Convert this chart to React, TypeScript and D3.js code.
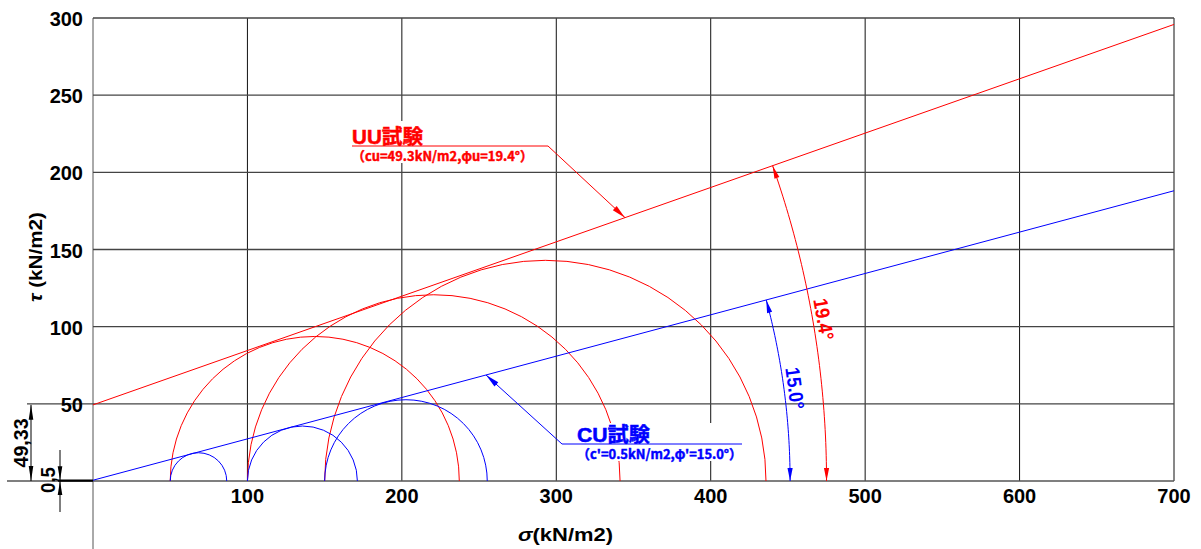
import React, { useEffect, useRef } from 'react';
import * as d3 from 'd3';

// axis ticks
const sigmaTicks = [0, 100, 200, 300, 400, 500, 600, 700];
const tauTicks = [0, 50, 100, 150, 200, 250, 300];

// minor / major principal stress of each specimen (kN/m2)
const sigma3 = [50, 100, 150];
const uuSigma1 = [237.2, 341.3, 435.8];
const cuSigma1 = [86.6, 171.2, 255.3];

// strength parameters [c, phi(deg)]
const uuStrength = [49.33, 19.4];
const cuStrength = [0.5, 15.0];

// sigma where the angle dimension arcs reach the axis [UU, CU]
const angleDimSigma = [475, 451.4];
// sigma where the label leaders hit each envelope [UU, CU]
const leaderSigma = [344.5, 254.5];

const uuTitle = 'UU試験';
const uuSub = '（cu=49.3kN/m2,φu=19.4°）';
const cuTitle = 'CU試験';
const cuSub = "（c'=0.5kN/m2,φ'=15.0°）";

const RED = '#ff0000';
const BLUE = '#0000ff';
const W = 1201;
const H = 549;
const LATIN = "'Liberation Sans', Arial, 'Noto Sans CJK JP', sans-serif";
const CJK = "'Noto Sans CJK JP', 'Liberation Sans', sans-serif";

const rad = (d: number) => (d * Math.PI) / 180;

const App = () => {
  const svgRef = useRef<SVGSVGElement>(null);

  useEffect(() => {
    const svg = d3.select(svgRef.current);
    svg.selectAll('*').remove();

    const x = d3.scaleLinear().domain([0, 700]).range([93, 1174]);
    const y = d3.scaleLinear().domain([0, 300]).range([481, 18]);

    // filled arrow head, tip at (tx,ty), pointing along (dx,dy)
    const arrow = (g: any, tx: number, ty: number, dx: number, dy: number, color: string, len = 13, half = 2.6) => {
      const n = Math.hypot(dx, dy);
      const ux = dx / n, uy = dy / n;
      const bx = tx - ux * len, by = ty - uy * len;
      g.append('polygon')
        .attr('points', `${tx},${ty} ${bx - uy * half},${by + ux * half} ${bx + uy * half},${by - ux * half}`)
        .attr('fill', color);
    };

    // grid
    const grid = svg.append('g').attr('stroke', '#333').attr('stroke-width', 1);
    sigmaTicks.forEach((s) => {
      grid.append('line')
        .attr('x1', x(s)).attr('x2', x(s))
        .attr('y1', y(300)).attr('y2', s === 0 ? H : y(0))
        .attr('stroke', s === 0 ? '#555' : '#111');
    });
    tauTicks.forEach((t) => {
      grid.append('line')
        .attr('x1', t === 0 ? 7 : t === 50 ? 27 : x(0)).attr('x2', x(700))
        .attr('y1', y(t)).attr('y2', y(t))
        .attr('stroke', t === 0 ? '#555' : '#444')
        .attr('stroke-width', 1.3);
    });

    // tick labels
    svg.append('g').selectAll('text')
      .data(sigmaTicks.filter((s) => s > 0))
      .enter().append('text')
      .attr('x', (d) => x(d)).attr('y', 503)
      .attr('text-anchor', 'middle')
      .attr('font-family', LATIN).attr('font-weight', 'bold').attr('font-size', 20)
      .text((d) => d);
    svg.append('g').selectAll('text')
      .data(tauTicks.filter((t) => t > 0))
      .enter().append('text')
      .attr('x', 83).attr('y', (d) => y(d) + 8)
      .attr('text-anchor', 'end')
      .attr('font-family', LATIN).attr('font-weight', 'bold').attr('font-size', 20)
      .text((d) => d);

    // axis titles
    const xt = svg.append('text')
      .attr('x', 518).attr('y', 541)
      .attr('font-family', LATIN).attr('font-weight', 'bold').attr('font-size', 18)
      .attr('textLength', 95).attr('lengthAdjust', 'spacingAndGlyphs');
    xt.append('tspan').attr('font-style', 'italic').text('σ');
    xt.append('tspan').text('(kN/m2)');
    const yt = svg.append('text')
      .attr('transform', `translate(42,302) rotate(-90)`)
      .attr('font-family', LATIN).attr('font-weight', 'bold').attr('font-size', 18)
      .attr('textLength', 90).attr('lengthAdjust', 'spacingAndGlyphs');
    yt.append('tspan').attr('font-style', 'italic').text('τ');
    yt.append('tspan').text(' (kN/m2)');

    // Mohr circles (upper halves)
    const semi = (s3: number, s1: number) => {
      const r = (x(s1) - x(s3)) / 2;
      return `M${x(s3)},${y(0)} A${r},${r} 0 0 1 ${x(s1)},${y(0)}`;
    };
    const circles = svg.append('g').attr('fill', 'none').attr('stroke-width', 1);
    sigma3.forEach((s3, i) => {
      circles.append('path').attr('d', semi(s3, uuSigma1[i])).attr('stroke', RED);
    });
    sigma3.forEach((s3, i) => {
      circles.append('path').attr('d', semi(s3, cuSigma1[i])).attr('stroke', BLUE);
    });

    // failure envelopes
    const env = (c: number, phi: number) => (s: number) => c + s * Math.tan(rad(phi));
    const uuEnv = env(uuStrength[0], uuStrength[1]);
    const cuEnv = env(cuStrength[0], cuStrength[1]);
    const line = d3.line<number>().x((s) => x(s)).y((s) => y(s));
    svg.append('path').attr('d', line.y((s) => y(uuEnv(s)))([0, 700]))
      .attr('fill', 'none').attr('stroke', RED);
    svg.append('path').attr('d', line.y((s) => y(cuEnv(s)))([0, 700]))
      .attr('fill', 'none').attr('stroke', BLUE);

    // labels with leaders
    const label = (color: string, mask: number[], title: string, tx: number, ty: number, titleLen: number,
      sub: string, subY: number, subLen: number, ul: number[], tipS: number, f: (s: number) => number) => {
      const g = svg.append('g');
      g.append('rect').attr('x', mask[0]).attr('y', mask[1]).attr('width', mask[2]).attr('height', mask[3]).attr('fill', '#fff');
      g.append('text').attr('x', tx).attr('y', ty)
        .attr('font-family', LATIN).attr('font-weight', 'bold').attr('font-size', 20).attr('fill', color)
        .attr('stroke', color).attr('stroke-width', 0.5)
        .attr('textLength', titleLen).attr('lengthAdjust', 'spacingAndGlyphs')
        .text(title);
      g.append('text').attr('x', tx).attr('y', subY)
        .attr('font-family', CJK).attr('font-weight', 'bold').attr('font-size', 13).attr('fill', color)
        .attr('stroke', color).attr('stroke-width', 0.45)
        .attr('textLength', subLen).attr('lengthAdjust', 'spacingAndGlyphs')
        .text(sub);
      const tipX = x(tipS), tipY = y(f(tipS));
      g.append('polyline')
        .attr('points', `${ul[0]},${ul[2]} ${ul[1]},${ul[2]} ${ul[3]},${ul[2]} ${tipX},${tipY}`)
        .attr('fill', 'none').attr('stroke', color);
      arrow(g, tipX, tipY, tipX - ul[3], tipY - ul[2], color, 14, 2.8);
    };
    label(RED, [348, 121, 201, 42], uuTitle, 352, 144, 71, uuSub, 161, 181, [352, 548, 146, 548], leaderSigma[0], uuEnv);
    label(BLUE, [573, 423, 170, 38], cuTitle, 577, 442, 73, cuSub, 459, 165, [742, 562, 444, 562], leaderSigma[1], cuEnv);

    // angle dimensions
    const angleDim = (c: number, phi: number, endS: number, color: string) => {
      const s0 = -c / Math.tan(rad(phi));
      const R = endS - s0;
      const thetas = d3.range(0, 1.0001, 0.02).map((k) => rad(phi) * k);
      const arc = d3.line<number>()
        .x((t) => x(s0 + R * Math.cos(t)))
        .y((t) => y(R * Math.sin(t)));
      svg.append('path').attr('d', arc(thetas)).attr('fill', 'none').attr('stroke', color);
      const p0x = x(endS), p0y = y(0);
      arrow(svg, p0x, p0y, 0, 1, color);
      const a = rad(phi);
      arrow(svg, x(s0 + R * Math.cos(a)), y(R * Math.sin(a)), -Math.sin(a), -Math.cos(a), color);
      const m = a / 2;
      const px = x(s0 + R * Math.cos(m)) + 11 * Math.cos(m);
      const py = y(R * Math.sin(m)) - 11 * Math.sin(m);
      svg.append('text')
        .attr('transform', `translate(${px},${py}) rotate(${90 - (phi / 2)})`)
        .attr('text-anchor', 'middle').attr('dominant-baseline', 'central')
        .attr('font-family', LATIN).attr('font-weight', 'bold').attr('font-size', 20).attr('fill', color)
        .attr('textLength', 42).attr('lengthAdjust', 'spacingAndGlyphs')
        .text(`${phi.toFixed(1)}°`);
    };
    angleDim(uuStrength[0], uuStrength[1], angleDimSigma[0], RED);
    angleDim(cuStrength[0], cuStrength[1], angleDimSigma[1], BLUE);

    // c dimensions on the left
    const dim = svg.append('g').attr('stroke', '#000');
    dim.append('line').attr('x1', 31).attr('x2', 31).attr('y1', y(uuStrength[0])).attr('y2', y(0));
    arrow(svg, 31, y(uuStrength[0]), 0, -1, '#000', 15, 2.3);
    arrow(svg, 31, y(0), 0, 1, '#000', 15, 2.3);
    dim.append('line').attr('x1', 60).attr('x2', 60).attr('y1', 450).attr('y2', 512);
    arrow(svg, 60, y(cuStrength[0]), 0, 1, '#000', 14, 2.3);
    arrow(svg, 60, y(0), 0, -1, '#000', 14, 2.3);
    dim.append('line').attr('x1', 58).attr('x2', x(0)).attr('y1', y(cuStrength[0])).attr('y2', y(cuStrength[0])).attr('stroke-width', 1.5);
    dim.append('line').attr('x1', 58).attr('x2', x(0)).attr('y1', y(0)).attr('y2', y(0)).attr('stroke-width', 1.5);

    svg.append('text')
      .attr('transform', `translate(28,${(y(uuStrength[0]) + y(0)) / 2}) rotate(-90)`)
      .attr('text-anchor', 'middle')
      .attr('font-family', LATIN).attr('font-weight', 'bold').attr('font-size', 20)
      .attr('textLength', 49).attr('lengthAdjust', 'spacingAndGlyphs')
      .text('49,33');
    svg.append('text')
      .attr('transform', `translate(55,480) rotate(-90)`)
      .attr('text-anchor', 'middle')
      .attr('font-family', LATIN).attr('font-weight', 'bold').attr('font-size', 20)
      .attr('textLength', 26).attr('lengthAdjust', 'spacingAndGlyphs')
      .text('0,5');
  }, []);

  return (
    <svg ref={svgRef} width={W} height={H}
      style={{ position: 'absolute', left: 0, top: 0, background: '#fff' }} />
  );
};

export default App;
